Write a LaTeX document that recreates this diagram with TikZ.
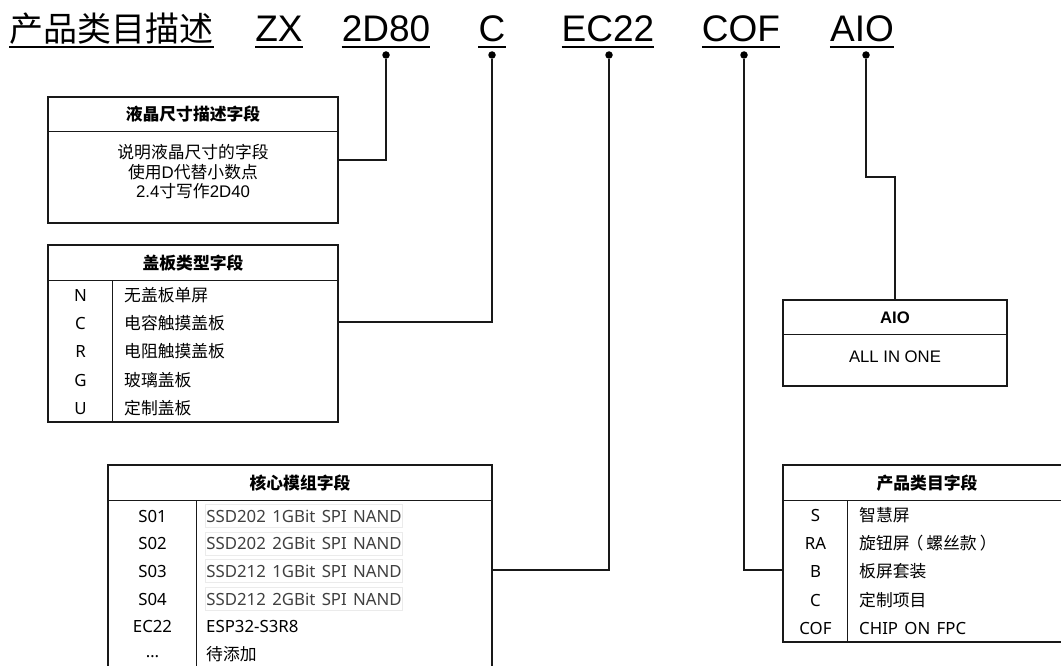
\documentclass[tikz,border=0pt]{standalone}
\usepackage{fontspec}
\setmainfont{Liberation Sans}
\newfontfamily\cjk{Noto Sans CJK SC}
\newfontfamily\latn[WordSpace=1.45]{Noto Sans}
\newcommand{\zh}[1]{{\cjk #1}}
\tikzset{
  frame/.style={draw=black!90,line width=1.4pt,inner sep=0pt},
  wire/.style={draw=black!90,line width=1.3pt},
  uline/.style={line width=1.8pt},
  pin/.style={circle,fill=black,inner sep=0pt,minimum size=7.5pt},
  title/.style={anchor=base,inner sep=0pt,font=\fontsize{37}{40}\selectfont},
  cell/.style={inner sep=0pt,text height=14pt,text depth=1.4pt,font=\cjk\fontsize{16.8}{20}\selectfont},
  keycell/.style={cell,font=\latn\fontsize{16.8}{20}\selectfont},
  head/.style={cell,font=\cjk\bfseries\fontsize{16.8}{20}\selectfont},
  graycell/.style={keycell,anchor=west,text=black!75,draw=black!8,line width=0.8pt,inner xsep=1pt,minimum height=23pt},
}
\begin{document}
\begin{tikzpicture}[x=1pt,y=-1pt]
  \useasboundingbox (0,0) rectangle (1061,666);
  \clip (0,0) rectangle (1061,666);
  \node[title,font=\cjk\fontsize{34}{40}\selectfont] (tName) at (111.5,42) {产品类目描述};
  \node[title] (tZX) at (279,42) {ZX};
  \node[title] (tSize) at (386,42) {2D80};
  \node[title] (tCover) at (492,42) {C};
  \node[title] (tCore) at (608,42) {EC22};
  \node[title] (tCat) at (741,42) {COF};
  \node[title] (tAio) at (862,42) {AIO};
  \foreach \t in {tName,tZX,tSize,tCover,tCore,tCat,tAio}
    \draw[uline] ([yshift=-5pt]\t.base west) -- ([yshift=-5pt]\t.base east);
  \node[pin] (pSize) at (386,55) {};
  \node[pin] (pCover) at (492,55) {};
  \node[pin] (pCore) at (609,55) {};
  \node[pin] (pCat) at (744,55) {};
  \node[pin] (pAio) at (866,55) {};
  \node[frame,minimum width=290pt,minimum height=126pt] (sizeBox) at (193,160) {};
  \draw[frame] ([yshift=-35pt]sizeBox.north west) -- ([yshift=-35pt]sizeBox.north east);
  \node[head] (sizeHead) at (193,114.5) {液晶尺寸描述字段};
  \node[align=center,inner sep=0pt,font=\fontsize{16.8}{19.5}\selectfont] (sizeText) at (193,172)
    {\zh{说明液晶尺寸的字段}\\\zh{使用}D\zh{代替小数点}\\2.4\zh{寸写作}2D40};
  \node[frame,minimum width=290pt,minimum height=177pt] (coverBox) at (193,333.5) {};
  \draw[frame] ([yshift=-36pt]coverBox.north west) -- ([yshift=-36pt]coverBox.north east);
  \draw[frame] ([xshift=65pt,yshift=-36pt]coverBox.north west) -- ([xshift=65pt]coverBox.south west);
  \node[head] (coverHead) at (193,263) {盖板类型字段};
  \foreach \k/\v [count=\i] in {N/无盖板单屏,C/电容触摸盖板,R/电阻触摸盖板,G/玻璃盖板,U/定制盖板} {
    \node[keycell] (coverK\i) at (80.5,{295+28.25*(\i-1)}) {\k};
    \node[cell,anchor=west] (coverV\i) at (124,{295+28.25*(\i-1)}) {\v};
  }
  \node[frame,minimum width=384pt,minimum height=210pt] (coreBox) at (300,570) {};
  \draw[frame] ([yshift=-36pt]coreBox.north west) -- ([yshift=-36pt]coreBox.north east);
  \draw[frame] ([xshift=89pt,yshift=-36pt]coreBox.north west) -- ([xshift=89pt]coreBox.south west);
  \node[head] (coreHead) at (300,483) {核心模组字段};
  \foreach \k/\v [count=\i] in {S01/SSD202 1GBit SPI NAND,S02/SSD202 2GBit SPI NAND,
      S03/SSD212 1GBit SPI NAND,S04/SSD212 2GBit SPI NAND} {
    \node[keycell] (coreK\i) at (152.5,{516+27.6*(\i-1)}) {\k};
    \node[graycell] (coreV\i) at (205,{516+27.6*(\i-1)}) {\v};
  }
  \node[keycell] (coreK5) at (152.5,626.4) {EC22};
  \node[keycell,anchor=west] (coreV5) at (206,626.4) {ESP32-S3R8};
  \node[keycell] (coreK6) at (152.5,654) {\raisebox{3pt}{…}};
  \node[cell,anchor=west] (coreV6) at (206,654) {待添加};
  \node[frame,minimum width=224pt,minimum height=86pt] (aioBox) at (895,343) {};
  \draw[frame] ([yshift=-35pt]aioBox.north west) -- ([yshift=-35pt]aioBox.north east);
  \node[inner sep=0pt,font=\bfseries\fontsize{16.7}{20}\selectfont] (aioHead) at (895,318) {AIO};
  \node[inner sep=0pt,font=\fontsize{16.7}{20}\selectfont] (aioText) at (895,357) {ALL IN ONE};
  \node[frame,minimum width=288pt,minimum height=177pt] (catBox) at (927,553.5) {};
  \draw[frame] ([yshift=-36pt]catBox.north west) -- ([yshift=-36pt]catBox.north east);
  \draw[frame] ([xshift=65pt,yshift=-36pt]catBox.north west) -- ([xshift=65pt]catBox.south west);
  \node[head] (catHead) at (927,483) {产品类目字段};
  \foreach \k/\v [count=\i] in {S/智慧屏,RA/旋钮屏\kern-3pt（\kern3pt螺丝款\kern3pt）,B/板屏套装,C/定制项目,COF/{\latn CHIP ON FPC}} {
    \node[keycell] (catK\i) at (815.5,{515+28.25*(\i-1)}) {\k};
    \node[cell,anchor=west] (catV\i) at (859,{515+28.25*(\i-1)}) {\v};
  }
  \draw[wire] (pSize) |- (sizeBox.east);
  \draw[wire] (pCover) |- ([yshift=11.5pt]coverBox.east);
  \draw[wire] (pCore) |- (coreBox.east);
  \draw[wire] (pCat) |- ([yshift=-16.5pt]catBox.west);
  \draw[wire] (pAio) -- ++(0,122) -| (aioBox.north);
\end{tikzpicture}
\end{document}
